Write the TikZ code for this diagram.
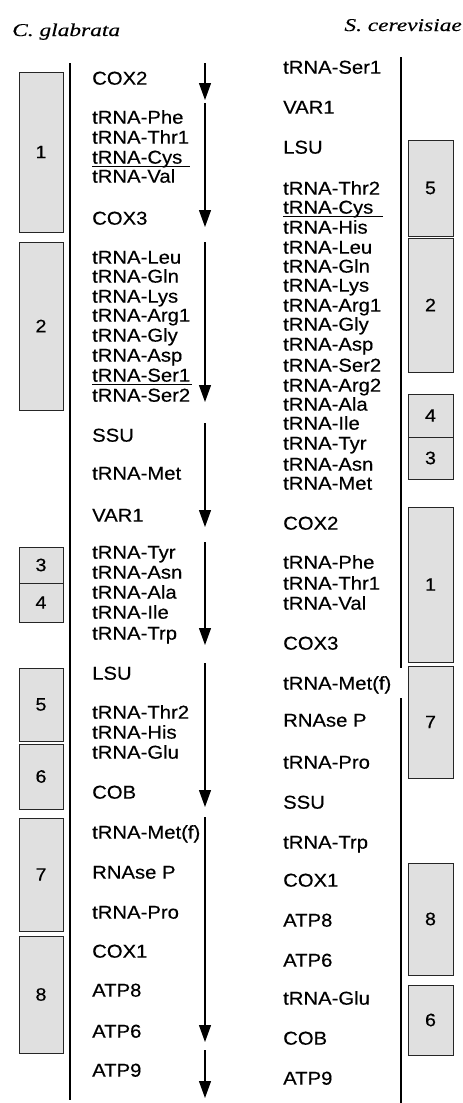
\documentclass[tikz,border=0pt]{standalone}
\usepackage{fontspec}
\usetikzlibrary{arrows.meta}
\newfontfamily\labfont[FakeStretch=1.09,FakeBold=0.4]{Liberation Sans}
\newfontfamily\ttlfont[FakeStretch=1.3,FakeBold=0.3]{Liberation Serif}
\definecolor{boxfill}{gray}{0.88}
\begin{document}
\begin{tikzpicture}[x=1pt,y=-1pt,
  lab/.style={anchor=west, inner sep=0pt, font=\labfont\fontsize{18.6}{20}\selectfont, text height=13.3pt, text depth=0pt},
  ttl/.style={inner sep=0pt, font=\ttlfont\itshape\fontsize{18}{20}\selectfont},
  seg/.style={draw=black!85, fill=boxfill, line width=0.9pt, inner sep=0pt, font=\labfont\fontsize{18}{20}\selectfont},
  spine/.style={line width=1.3pt},
  gene/.style={line width=1.2pt, -{Triangle[width=12pt,length=17pt]}},
  uline/.style={line width=1pt}]
\useasboundingbox (0,0) rectangle (463,1103);
% titles
\node[ttl, anchor=base west] (tl) at (12,36) {C. glabrata};
\node[ttl, anchor=base east] (tr) at (462,31) {S. cerevisiae};
% spines
\coordinate (ls1) at (70,63); \coordinate (ls2) at (70,1100);
\draw[spine] (ls1) -- (ls2);
\coordinate (rs1) at (401,57); \coordinate (rs2) at (401,668);
\coordinate (rs3) at (401,698); \coordinate (rs4) at (401,1103);
\draw[spine] (rs1) -- (rs2);
\draw[spine] (rs3) -- (rs4);
% left boxes
\node[seg, minimum width=44pt, minimum height=160pt] (lb1) at (41,152) {1};
\node[seg, minimum width=44pt, minimum height=168pt] (lb2) at (41,326) {2};
\node[seg, minimum width=44pt, minimum height=36pt] (lb3) at (41,565) {3};
\node[seg, minimum width=44pt, minimum height=39pt] (lb4) at (41,602.5) {4};
\node[seg, minimum width=44pt, minimum height=73pt] (lb5) at (41,704.5) {5};
\node[seg, minimum width=44pt, minimum height=65pt] (lb6) at (41,776.5) {6};
\node[seg, minimum width=44pt, minimum height=113pt] (lb7) at (41,874.5) {7};
\node[seg, minimum width=44pt, minimum height=117pt] (lb8) at (41,994.5) {8};
% right boxes
\node[seg, minimum width=45pt, minimum height=96pt] (rb5) at (430.5,188) {5};
\node[seg, minimum width=45pt, minimum height=134pt] (rb2) at (430.5,305) {2};
\node[seg, minimum width=45pt, minimum height=43pt] (rb4) at (430.5,415.5) {4};
\node[seg, minimum width=45pt, minimum height=42pt] (rb3) at (430.5,458) {3};
\node[seg, minimum width=45pt, minimum height=155pt] (rb1) at (430.5,584.5) {1};
\node[seg, minimum width=45pt, minimum height=112pt] (rb7) at (430.5,722) {7};
\node[seg, minimum width=45pt, minimum height=112pt] (rb8) at (430.5,919) {8};
\node[seg, minimum width=45pt, minimum height=70pt] (rb6) at (430.5,1020) {6};
% left labels
\foreach \t/\y [count=\i] in {COX2/78, tRNA-Phe/117, tRNA-Thr1/137, tRNA-Cys/157, tRNA-Val/176, COX3/218,
  tRNA-Leu/257, tRNA-Gln/276, tRNA-Lys/296, tRNA-Arg1/315, tRNA-Gly/335, tRNA-Asp/355, tRNA-Ser1/375, tRNA-Ser2/395,
  SSU/435, tRNA-Met/473, VAR1/515,
  tRNA-Tyr/552, tRNA-Asn/572, tRNA-Ala/592, tRNA-Ile/612, tRNA-Trp/633,
  LSU/673, tRNA-Thr2/712, tRNA-His/732, tRNA-Glu/752, COB/792,
  tRNA-Met(f)/832, RNAse P/872, tRNA-Pro/912, COX1/951, ATP8/990, ATP6/1031, ATP9/1070}
  \node[lab] (L\i) at (92,\y) {\t};
% right labels
\foreach \t/\y [count=\i] in {tRNA-Ser1/67, VAR1/107, LSU/147, tRNA-Thr2/188, tRNA-Cys/207, tRNA-His/227,
  tRNA-Leu/247, tRNA-Gln/266, tRNA-Lys/285, tRNA-Arg1/305, tRNA-Gly/324, tRNA-Asp/344, tRNA-Ser2/365, tRNA-Arg2/385,
  tRNA-Ala/404, tRNA-Ile/423, tRNA-Tyr/443, tRNA-Asn/464, tRNA-Met/483,
  COX2/523, tRNA-Phe/562, tRNA-Thr1/583, tRNA-Val/603, COX3/643,
  tRNA-Met(f)/683, RNAse P/720, tRNA-Pro/762, SSU/802, tRNA-Trp/842,
  COX1/880, ATP8/920, ATP6/960, tRNA-Glu/998, COB/1038, ATP9/1078}
  \node[lab] (R\i) at (283,\y) {\t};
% underlines
\draw[uline] ([yshift=-2.5pt]L4.south west) -- ++(98,0);
\draw[uline] ([yshift=-2.5pt]L13.south west) -- ++(100,0);
\draw[uline] ([yshift=-2.5pt]R5.south west) -- ++(100,0);
% transcription units (arrows)
\foreach \a/\b [count=\i] in {63/100, 103/227, 242/402, 423/527, 542/645, 663/807, 817/1042, 1050/1098} {
  \coordinate (g\i s) at (205,\a);
  \coordinate (g\i e) at (205,\b);
  \draw[gene] (g\i s) -- (g\i e);
}
\end{tikzpicture}
\end{document}
